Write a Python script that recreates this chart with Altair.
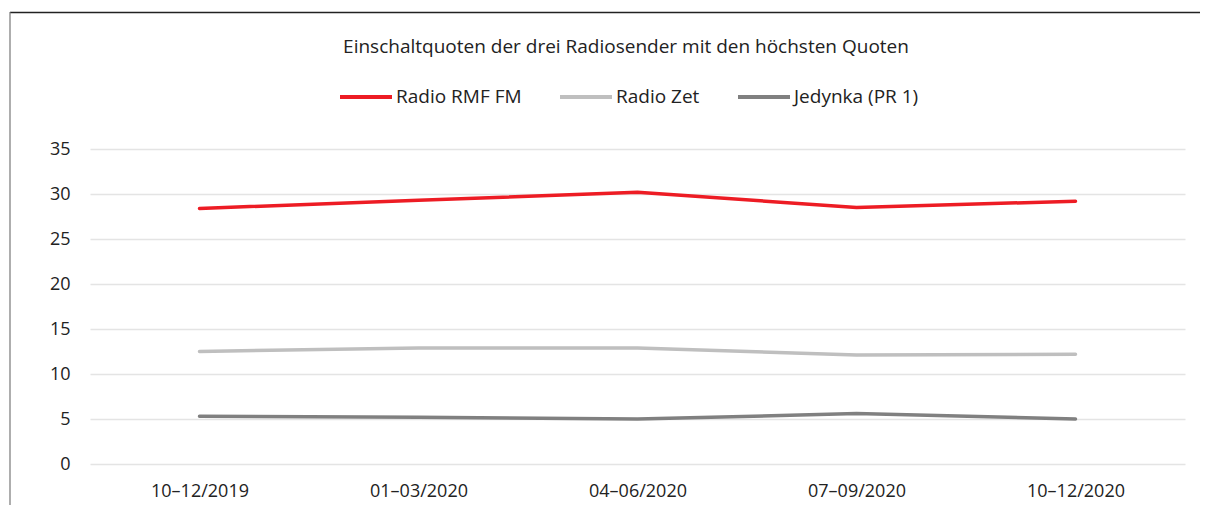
import altair as alt
import pandas as pd

periods = ["10–12/2019", "01–03/2020", "04–06/2020", "07–09/2020", "10–12/2020"]
series_names = ["Radio RMF FM", "Radio Zet", "Jedynka (PR 1)"]
rmf = [28.4, 29.3, 30.2, 28.5, 29.2]
zet = [12.5, 12.9, 12.9, 12.1, 12.2]
jedynka = [5.3, 5.2, 5.0, 5.6, 5.0]
colors = ["#ED1C24", "#BFBFBF", "#808080"]
title_text = "Einschaltquoten der drei Radiosender mit den höchsten Quoten"

rows = []
for name, vals in zip(series_names, [rmf, zet, jedynka]):
    for i, (p, v) in enumerate(zip(periods, vals)):
        rows.append({"Zeitraum": p, "idx": i, "Sender": name, "Quote": v})
df = pd.DataFrame(rows)

FONT = "Open Sans"

lines = alt.Chart(df).mark_line(strokeWidth=3.5, strokeCap="round", strokeJoin="round").encode(
    x=alt.X("Zeitraum:N", sort=periods, title=None,
            scale=alt.Scale(type="point", padding=0.5),
            axis=alt.Axis(labelAngle=0, ticks=False, domain=False, grid=False,
                          labelFontSize=18, labelFont=FONT, labelColor="#222",
                          labelPadding=18)),
    y=alt.Y("Quote:Q", title=None,
            scale=alt.Scale(domain=[0, 35], nice=False),
            axis=alt.Axis(values=[0, 5, 10, 15, 20, 25, 30, 35], ticks=False, domain=False,
                          gridColor="#e4e4e4", gridWidth=1.5,
                          labelFontSize=18, labelFont=FONT, labelColor="#222",
                          labelPadding=20)),
    color=alt.Color("Sender:N", sort=series_names,
                    scale=alt.Scale(domain=series_names, range=colors),
                    legend=alt.Legend(title=None, orient="none", direction="horizontal",
                                      legendX=248, legendY=-80,
                                      symbolType="stroke", symbolSize=2704,
                                      symbolStrokeWidth=4,
                                      labelFontSize=19, labelFont=FONT, labelColor="#222",
                                      labelOffset=2, columnPadding=30)),
    order=alt.Order("idx:Q"),
)

frame_df = pd.DataFrame({"k": [0]})
top_rule = alt.Chart(frame_df).mark_rule(color="#222", strokeWidth=1.5).encode(
    x=alt.value(-80), x2=alt.value(1130), y=alt.value(-136.5)
)
left_rule = alt.Chart(frame_df).mark_rule(color="#777", strokeWidth=1.2).encode(
    x=alt.value(-80), y=alt.value(-137), y2=alt.value(420)
)
title_df = pd.DataFrame({"t": [title_text]})
title_mark = alt.Chart(title_df).mark_text(
    font=FONT, fontSize=19, color="#222", align="center", baseline="middle"
).encode(text="t:N", x=alt.value(536), y=alt.value(-102))

chart = alt.layer(top_rule, left_rule, title_mark, lines).properties(
    width=1095,
    height=315,
    background="white",
    autosize=alt.AutoSizeParams(type="none"),
    padding={"left": 82, "top": 141, "right": 15, "bottom": 60},
).configure_view(strokeWidth=0, stroke="transparent")

chart.save("out.html", embed_options={"renderer": "svg", "actions": False})
